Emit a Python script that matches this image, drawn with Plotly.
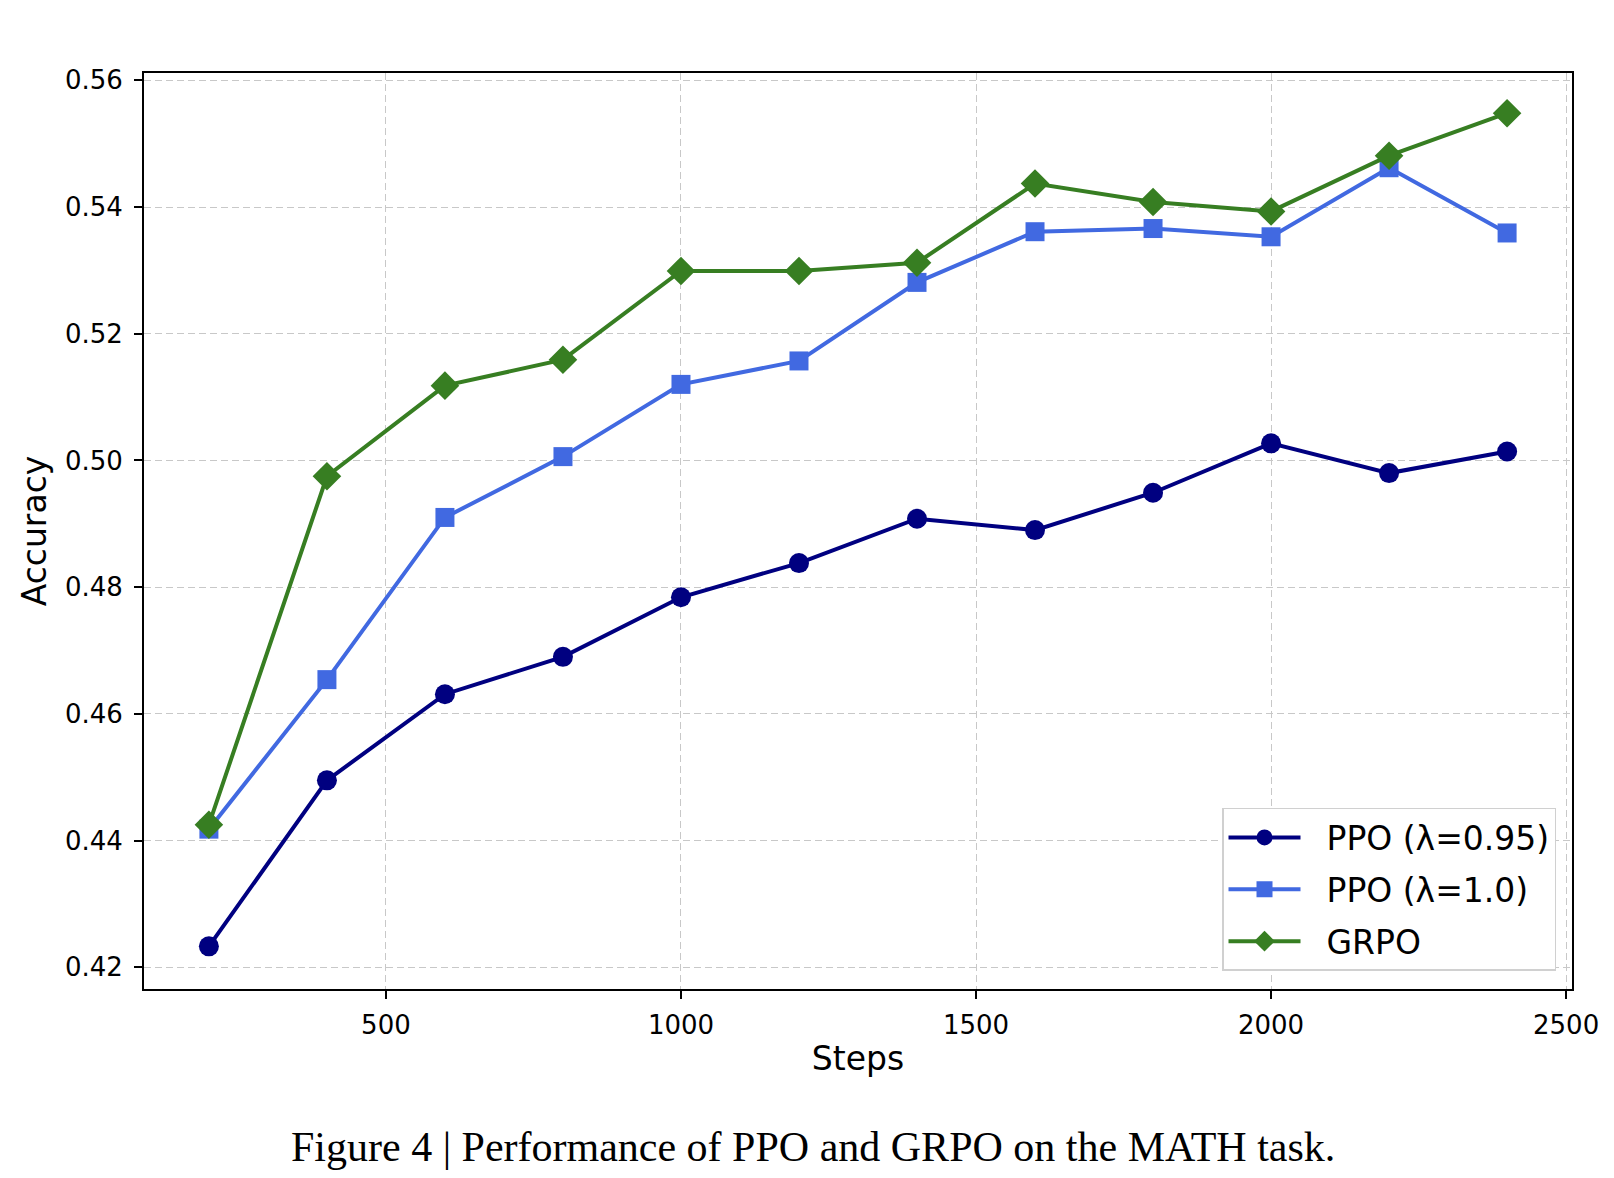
import plotly.graph_objects as go

steps = [200, 400, 600, 800, 1000, 1200, 1400, 1600, 1800, 2000, 2200, 2400]
ppo_095 = [0.4233, 0.4495, 0.4631, 0.4690, 0.4784, 0.4838, 0.4908, 0.4890, 0.4949, 0.5027, 0.4980, 0.5014]
ppo_10 = [0.4418, 0.4654, 0.4910, 0.5006, 0.5120, 0.5157, 0.5281, 0.5361, 0.5366, 0.5353, 0.5462, 0.5359]
grpo = [0.4425, 0.4975, 0.5118, 0.5159, 0.5299, 0.5299, 0.5312, 0.5437, 0.5408, 0.5393, 0.5481, 0.5548]

series_names = ["PPO (λ=0.95)", "PPO (λ=1.0)", "GRPO"]
x_ticks = [500, 1000, 1500, 2000, 2500]
y_ticks = [0.42, 0.44, 0.46, 0.48, 0.50, 0.52, 0.54, 0.56]
caption = "Figure 4 | Performance of PPO and GRPO on the MATH task."

fig = go.Figure()
styles = [
    ("#000080", "circle", 20),
    ("#4169E1", "square", 19),
    ("#377E22", "diamond", 22),
]
for i, (name, ys, (col, sym, sz)) in enumerate(zip(series_names, [ppo_095, ppo_10, grpo], styles)):
    fig.add_trace(go.Scatter(
        x=steps, y=ys, name="\u00a0\u00a0" + name, mode="lines+markers",
        legendgroup=f"g{i}",
        line=dict(color=col, width=4),
        marker=dict(color=col, symbol=sym, size=sz, line=dict(width=0)),
    ))

axis_common = dict(
    showline=True, linecolor="black", linewidth=2, mirror=True,
    ticks="outside", ticklen=8, tickwidth=1.5, tickcolor="black",
    showgrid=True, gridcolor="#c8c8c8", gridwidth=1.3, griddash="7px,4px",
    zeroline=False,
    tickfont=dict(family="DejaVu Sans", size=26, color="black"),
)

fig.update_xaxes(
    range=[90, 2510], tickvals=x_ticks, ticktext=[str(t) for t in x_ticks],
    ticklabelstandoff=4,
    title=dict(text="Steps", font=dict(family="DejaVu Sans", size=33, color="black"), standoff=8),
    **axis_common,
)
fig.update_yaxes(
    range=[0.41657, 0.56115], tickvals=y_ticks, ticktext=[f"{t:.2f}" for t in y_ticks],
    ticklabelstandoff=6,
    title=dict(text="Accuracy", font=dict(family="DejaVu Sans", size=33, color="black"), standoff=8),
    **axis_common,
)

fig.add_annotation(
    text=caption, xref="paper", yref="paper", x=(805 - 136) / 1428, y=-0.1725,
    xanchor="center", yanchor="middle", showarrow=False,
    font=dict(family="Liberation Serif", size=42, color="black"),
)

fig.update_layout(
    width=1614, height=1178,
    margin=dict(l=136, r=50, t=65, b=197),
    paper_bgcolor="white", plot_bgcolor="white",
    showlegend=True,
    legend=dict(
        x=0.9888, y=0.0197, xanchor="right", yanchor="bottom",
        bgcolor="white", bordercolor="#d0d0d0", borderwidth=1.5,
        font=dict(family="DejaVu Sans", size=33, color="black"),
        itemwidth=72, tracegroupgap=6, traceorder="grouped",
    ),
)

fig.write_html("out.html")
